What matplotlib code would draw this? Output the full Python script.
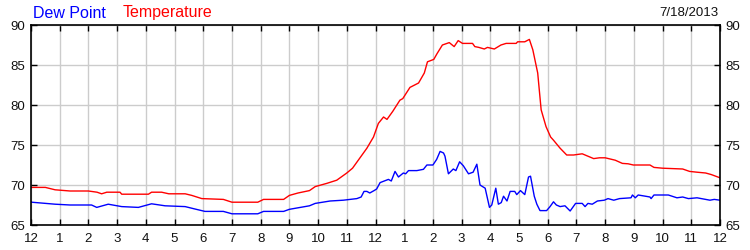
import matplotlib
matplotlib.use("Agg")
import matplotlib.pyplot as plt

plt.rcParams['font.family'] = ['Liberation Sans', 'DejaVu Sans']

temp_hours = [0.0, 0.5, 0.84, 1.36, 2.0, 2.3, 2.46, 2.64, 3.1, 3.16, 4.09, 4.2, 4.55, 4.8, 5.37, 5.6, 5.95,
              6.7, 7.0, 7.9, 8.1, 8.8, 9.0, 9.3, 9.7, 9.9, 10.3, 10.65, 11.0, 11.2, 11.4, 11.7, 11.93,
              12.1, 12.28, 12.4, 12.6, 12.85, 12.95, 13.2, 13.5, 13.7, 13.81, 14.03, 14.14, 14.33, 14.57,
              14.74, 14.88, 15.03, 15.38, 15.46, 15.6, 15.79, 15.9, 16.14, 16.37, 16.55, 16.9, 16.95,
              17.2, 17.36, 17.48, 17.65, 17.77, 17.94, 18.1, 18.2, 18.43, 18.66, 18.9, 19.2, 19.6,
              19.8, 20.0, 20.35, 20.6, 20.8, 20.98, 21.56, 21.7, 22.0, 22.7, 22.94, 23.2, 23.5, 23.7, 24.0]
temp_values = [69.7, 69.7, 69.4, 69.25, 69.25, 69.1, 68.9, 69.1, 69.1, 68.85, 68.85, 69.1, 69.1, 68.9, 68.9, 68.7, 68.3,
               68.2, 67.85, 67.85, 68.2, 68.2, 68.7, 69.0, 69.3, 69.8, 70.2, 70.6, 71.5, 72.1, 73.1, 74.6, 76.0,
               77.7, 78.5, 78.2, 79.2, 80.6, 80.8, 82.2, 82.75, 84.0, 85.4, 85.7, 86.4, 87.5, 87.8,
               87.3, 88.05, 87.7, 87.7, 87.3, 87.2, 87.0, 87.2, 87.0, 87.5, 87.7, 87.7, 87.9,
               87.9, 88.2, 86.9, 84.0, 79.4, 77.3, 76.0, 75.6, 74.6, 73.75, 73.75, 73.9, 73.3,
               73.4, 73.4, 73.1, 72.7, 72.65, 72.5, 72.5, 72.2, 72.1, 72.0, 71.7, 71.6, 71.5, 71.3, 70.9]

dew_hours = [0.0, 0.02, 0.84, 1.36, 2.11, 2.29, 2.69, 3.16, 3.74, 4.2, 4.67, 5.37, 5.71, 6.06, 6.7, 7.0, 7.9,
             8.1, 8.8, 9.0, 9.7, 9.9, 10.42, 10.88, 11.35, 11.5, 11.6, 11.7, 11.8, 11.95, 12.04, 12.16, 12.45,
             12.55, 12.68, 12.8, 12.97, 13.05, 13.15, 13.44, 13.67, 13.79, 14.0, 14.13, 14.25, 14.37, 14.42,
             14.54, 14.71, 14.8, 14.93, 15.06, 15.24, 15.4, 15.53, 15.64, 15.82, 15.97, 16.05, 16.19, 16.28,
             16.38, 16.46, 16.58, 16.69, 16.85, 16.92, 17.05, 17.2, 17.33, 17.4, 17.53, 17.62, 17.73, 17.96,
             18.08, 18.2, 18.3, 18.43, 18.6, 18.78, 18.97, 19.2, 19.3, 19.4, 19.55, 19.73, 19.97, 20.1, 20.3,
             20.5, 20.9, 20.95, 21.05, 21.15, 21.4, 21.56, 21.6, 21.7, 22.2, 22.5, 22.7, 22.9, 23.2, 23.65,
             23.8, 24.0]
dew_values = [67.9, 67.85, 67.6, 67.5, 67.5, 67.2, 67.6, 67.3, 67.2, 67.65, 67.4, 67.3, 67.0, 66.7, 66.7, 66.4, 66.4,
              66.7, 66.7, 66.96, 67.4, 67.7, 68.0, 68.1, 68.3, 68.5, 69.2, 69.2, 69.0, 69.3, 69.5, 70.3, 70.7,
              70.5, 71.7, 71.0, 71.5, 71.4, 71.8, 71.8, 71.96, 72.5, 72.5, 73.2, 74.2, 74.0, 73.6,
              71.4, 72.0, 71.8, 72.9, 72.4, 71.4, 71.6, 72.6, 70.0, 69.6, 67.2, 67.5, 69.6, 67.6,
              67.8, 68.6, 68.0, 69.2, 69.2, 68.8, 69.3, 68.8, 71.0, 71.1, 68.6, 67.6, 66.8, 66.8,
              67.3, 67.9, 67.5, 67.3, 67.4, 66.75, 67.7, 67.7, 67.3, 67.7, 67.6, 68.0, 68.1, 68.3, 68.1,
              68.3, 68.4, 68.75, 68.4, 68.75, 68.6, 68.5, 68.3, 68.75, 68.75, 68.4, 68.5, 68.3, 68.4, 68.1,
              68.2, 68.1]

hour_ticks = list(range(0, 25))
hour_labels = ['12', '1', '2', '3', '4', '5', '6', '7', '8', '9', '10', '11',
               '12', '1', '2', '3', '4', '5', '6', '7', '8', '9', '10', '11', '12']
y_ticks = [65, 70, 75, 80, 85, 90]

fig = plt.figure(figsize=(7.5, 2.5), dpi=100)
ax = fig.add_axes([31/750, 25/250, 689/750, 200/250])

ax.plot(temp_hours, temp_values, color='#ff0000', lw=1.0)
ax.plot(dew_hours, dew_values, color='#0000ff', lw=1.0)

ax.set_xlim(0, 24)
ax.set_ylim(65, 90)
ax.set_xticks(hour_ticks)
ax.set_xticklabels(hour_labels)
ax.set_yticks(y_ticks)
ax.grid(True, color='#cccccc', lw=1.0)
ax.set_axisbelow(True)
ax.tick_params(axis='x', direction='in', top=True, bottom=True, length=4, width=1,
               labelsize=9.5, pad=6, colors='black', labelcolor='#111111')
ax.tick_params(axis='y', direction='in', left=True, right=True, labelleft=True, labelright=True,
               length=4, width=1, labelsize=9.5, pad=4, colors='black', labelcolor='#111111')
for s in ax.spines.values():
    s.set_color('black')
    s.set_linewidth(1.2)

fig.text(33/750, 1 - 13/250, 'Dew Point', color='#0000ff', fontsize=11.5, va='center', ha='left')
fig.text(123/750, 1 - 13/250, 'Temperature', color='#ff0000', fontsize=11.5, va='center', ha='left')
fig.text(718/750, 1 - 13/250, '7/18/2013', color='#111111', fontsize=9.5, va='center', ha='right')

fig.savefig('out.png', dpi=100)
